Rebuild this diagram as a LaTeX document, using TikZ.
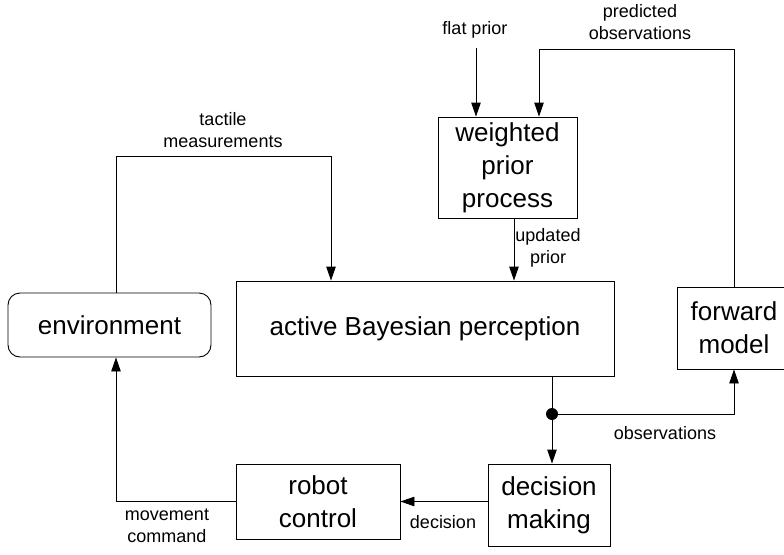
\documentclass[tikz,border=0pt]{standalone}
\usepackage{fontspec}
\setmainfont{Liberation Sans}
\usepackage{tikz}
\usetikzlibrary{arrows.meta, positioning}

\begin{document}
\begin{tikzpicture}[x=1pt, y=-1pt,
  block/.style={draw, line width=0.9pt, align=center, inner sep=0pt,
    font=\fontsize{26}{33}\selectfont},
  lbl/.style={align=center, inner sep=0pt, font=\fontsize{18}{22}\selectfont},
  arr/.style={line width=0.9pt, -{Triangle[length=14pt, width=9.5pt]}},
  ln/.style={line width=0.9pt}]
  \useasboundingbox (0,0) rectangle (784,554);
  % Blocks
  \node[block, rounded corners=12pt, minimum width=203pt, minimum height=64pt]
    (env) at (109.5,325) {environment};
  \node[block, minimum width=378pt, minimum height=95pt]
    (abp) at (425,328.5) {active Bayesian perception};
  \node[block, minimum width=139pt, minimum height=101pt]
    (wpp) at (507.5,167.5) {weighted\\prior\\process};
  \node[block, minimum width=114pt, minimum height=82pt]
    (fwd) at (734,328) {forward\\model};
  \node[block, minimum width=164pt, minimum height=75pt]
    (rc) at (318,501.5) {robot\\control};
  \node[block, minimum width=122pt, minimum height=82pt]
    (dm) at (549,505) {decision\\making};
  % Labels
  \node[lbl] (flat) at (475,30) {flat prior};
  \node[lbl] (pred) at (640,22) {predicted\\observations};
  \node[lbl] (upd) at (548,248) {updated\\prior};
  \node[lbl] (tact) at (223,130) {tactile\\measurements};
  \node[lbl] (obsl) at (665,433) {observations};
  \node[lbl] (dec) at (443,522) {decision};
  \node[lbl] (mov) at (167,526) {movement\\command};
  % Turning points
  \coordinate (flatin) at (476,48);
  \coordinate (predin) at (539,49);
  \coordinate (updx) at (514,0);
  \coordinate (tactL) at (116,156);
  \coordinate (tactR) at (331,156);
  \coordinate (obs) at (552,414);
  % Connectors
  \draw[arr] (flatin) -- (flatin |- wpp.north);
  \draw[arr] (fwd.north) |- (predin) -- (predin |- wpp.north);
  \draw[arr] (wpp.south -| updx) -- (abp.north -| updx);
  \draw[arr] (env.north -| tactL) -- (tactL) -- (tactR) -- (tactR |- abp.north);
  \draw[ln] (abp.south -| obs) -- (obs);
  \draw[arr] (obs) -- (obs |- dm.north);
  \draw[arr] (obs) -| (fwd.south);
  \fill (obs) circle (6);
  \draw[arr] (dm.west |- rc.east) -- (rc.east);
  \draw[arr] (rc.west) -| (env.south -| tactL);
\end{tikzpicture}
\end{document}
